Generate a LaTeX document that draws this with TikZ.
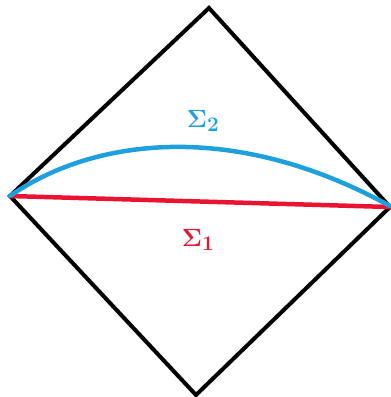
\documentclass[tikz,border=0pt]{standalone}
\usepackage{amsmath}
\definecolor{sigblue}{RGB}{30,160,222}
\definecolor{sigred}{RGB}{232,20,50}
\begin{document}
\begin{tikzpicture}[
  x=1pt, y=-1pt,
  edge/.style={line width=4pt, line join=miter},
  slice/.style={line width=4.5pt, line cap=round},
  every node/.style={font=\fontsize{30}{30}\selectfont\bfseries}
]
\useasboundingbox (0,0) rectangle (391,397);
\coordinate (top) at (209,8);
\coordinate (left) at (10,196);
\coordinate (bot) at (196,395);
\coordinate (right) at (390,207);
\draw[edge] (top) -- (left) -- (bot) -- (right) -- cycle;
\draw[slice, sigred] (left) -- (right);
\draw[slice, sigblue] (left) .. controls (90,140) and (230,118) .. (390,206);
\node[sigblue] (s2) at (203,121) {$\boldsymbol{\Sigma_2}$};
\node[sigred] (s1) at (198,240) {$\boldsymbol{\Sigma_1}$};
\end{tikzpicture}
\end{document}
